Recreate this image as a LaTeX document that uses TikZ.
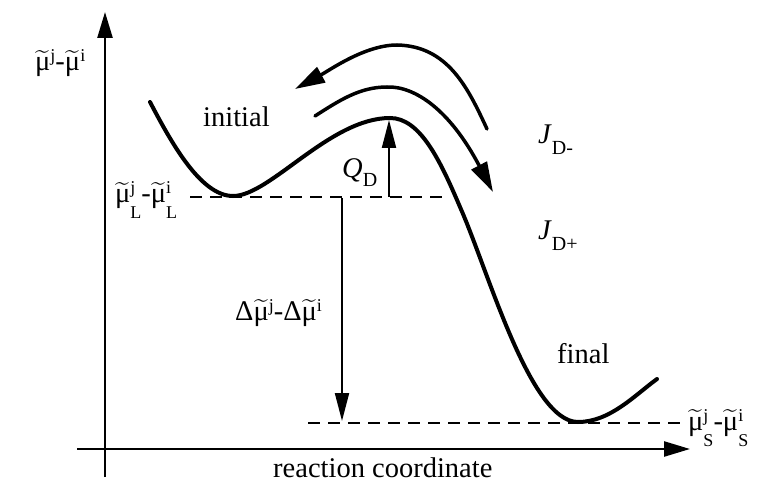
\documentclass[tikz,border=0pt]{standalone}
\usepackage{amsmath}
\usepackage{fontspec}
\setmainfont{Liberation Serif}
\usetikzlibrary{arrows.meta}

\newcommand\tmu{\ensuremath{\widetilde{\text{μ}}}}
\newcommand\supi[1]{\raisebox{9pt}{\fontsize{18}{18}\selectfont #1}}
\newcommand\musl[2]{\tmu\rlap{\supi{#1}}\raisebox{-16pt}{\fontsize{18}{18}\selectfont #2}}
\newcommand\subD[2]{\raisebox{-#1}{\fontsize{20}{20}\selectfont #2}}

\tikzset{
  lbl/.style={anchor=base west, inner sep=0pt, font=\fontsize{28.5}{34}\selectfont},
  energy/.style={line width=4pt, line cap=round},
  flow/.style={line width=3.5pt, line cap=round, -{Triangle[length=30pt,width=17pt]}},
  axisline/.style={line width=2.5pt, -{Triangle[length=26pt,width=15pt]}},
  dashline/.style={line width=2pt, dash pattern=on 12pt off 8pt},
  levelarrow/.style={line width=2pt, -{Triangle[length=28pt,width=14pt]}}
}

\begin{document}
\begin{tikzpicture}[x=1pt,y=-1pt]
\useasboundingbox (0,0) rectangle (783,486);

% axes
\coordinate (yb) at (105,477);
\coordinate (yt) at (105,12);
\coordinate (xl) at (77,449);
\coordinate (xr) at (690,449);
\draw[axisline] (yb) -- (yt);
\draw[axisline] (xl) -- (xr);

% key points of the profile
\coordinate (start) at (150,102);
\coordinate (minL) at (233,196);
\coordinate (peak) at (390,118);
\coordinate (mid) at (460,207);
\coordinate (minS) at (578,422);
\coordinate (end) at (657,379);

% dashed levels
\coordinate (dLa) at (190,197);
\coordinate (dLb) at (445,197);
\coordinate (dSa) at (308,423);
\coordinate (dSb) at (686,423);
\draw[dashline] (dLa) -- (dLb);
\draw[dashline] (dSa) -- (dSb);

% energy profile
\draw[energy] (start) .. controls (170,140) and (200,196) .. (minL)
  .. controls (270,196) and (330,118) .. (peak)
  .. controls (420,118) and (440,160) .. (mid)
  .. controls (488,270) and (530,422) .. (minS)
  .. controls (610,422) and (635,395) .. (end);

% flux arrows
\coordinate (upA) at (487,129);
\coordinate (upM) at (397,45);
\coordinate (upT) at (295,89);
\draw[flow] (upA) .. controls (468,88) and (448,46) .. (upM)
  .. controls (365,45) and (330,70) .. (upT);
\coordinate (loA) at (315,116);
\coordinate (loM) at (387,87);
\coordinate (loT) at (493,192);
\draw[flow] (loA) .. controls (340,100) and (360,87) .. (loM)
  .. controls (415,86) and (450,110) .. (loT);

% Q_D arrow
\coordinate (qb) at (389,197);
\coordinate (qt) at (389,120);
\draw[levelarrow] (qb) -- (qt);

% Delta arrow
\coordinate (db) at (342,198);
\coordinate (dt) at (342,421);
\draw[levelarrow] (db) -- (dt);

% labels
\node[lbl] (ylab) at (35,71) {\tmu\supi{j}-\tmu\supi{i}};
\node[lbl] (Llab) at (115,203) {\musl{j}{L}-\musl{i}{L}};
\node[lbl] (Slab) at (688,430) {\musl{j}{S}-\musl{i}{S}};
\node[lbl] (dlab) at (235,320) {Δ\tmu\supi{j}-Δ\tmu\supi{i}};
\node[lbl] (init) at (203,127) {initial};
\node[lbl] (fin) at (557,363) {final};
\node[lbl] (xlab) at (273,477) {reaction coordinate};
\node[lbl] (qlab) at (342,178) {\textit{Q}\subD{9pt}{D}};
\node[lbl] (jm) at (538,144) {\textit{J}\subD{11pt}{D-}};
\node[lbl] (jp) at (538,239) {\textit{J}\subD{11pt}{D+}};
\end{tikzpicture}
\end{document}
